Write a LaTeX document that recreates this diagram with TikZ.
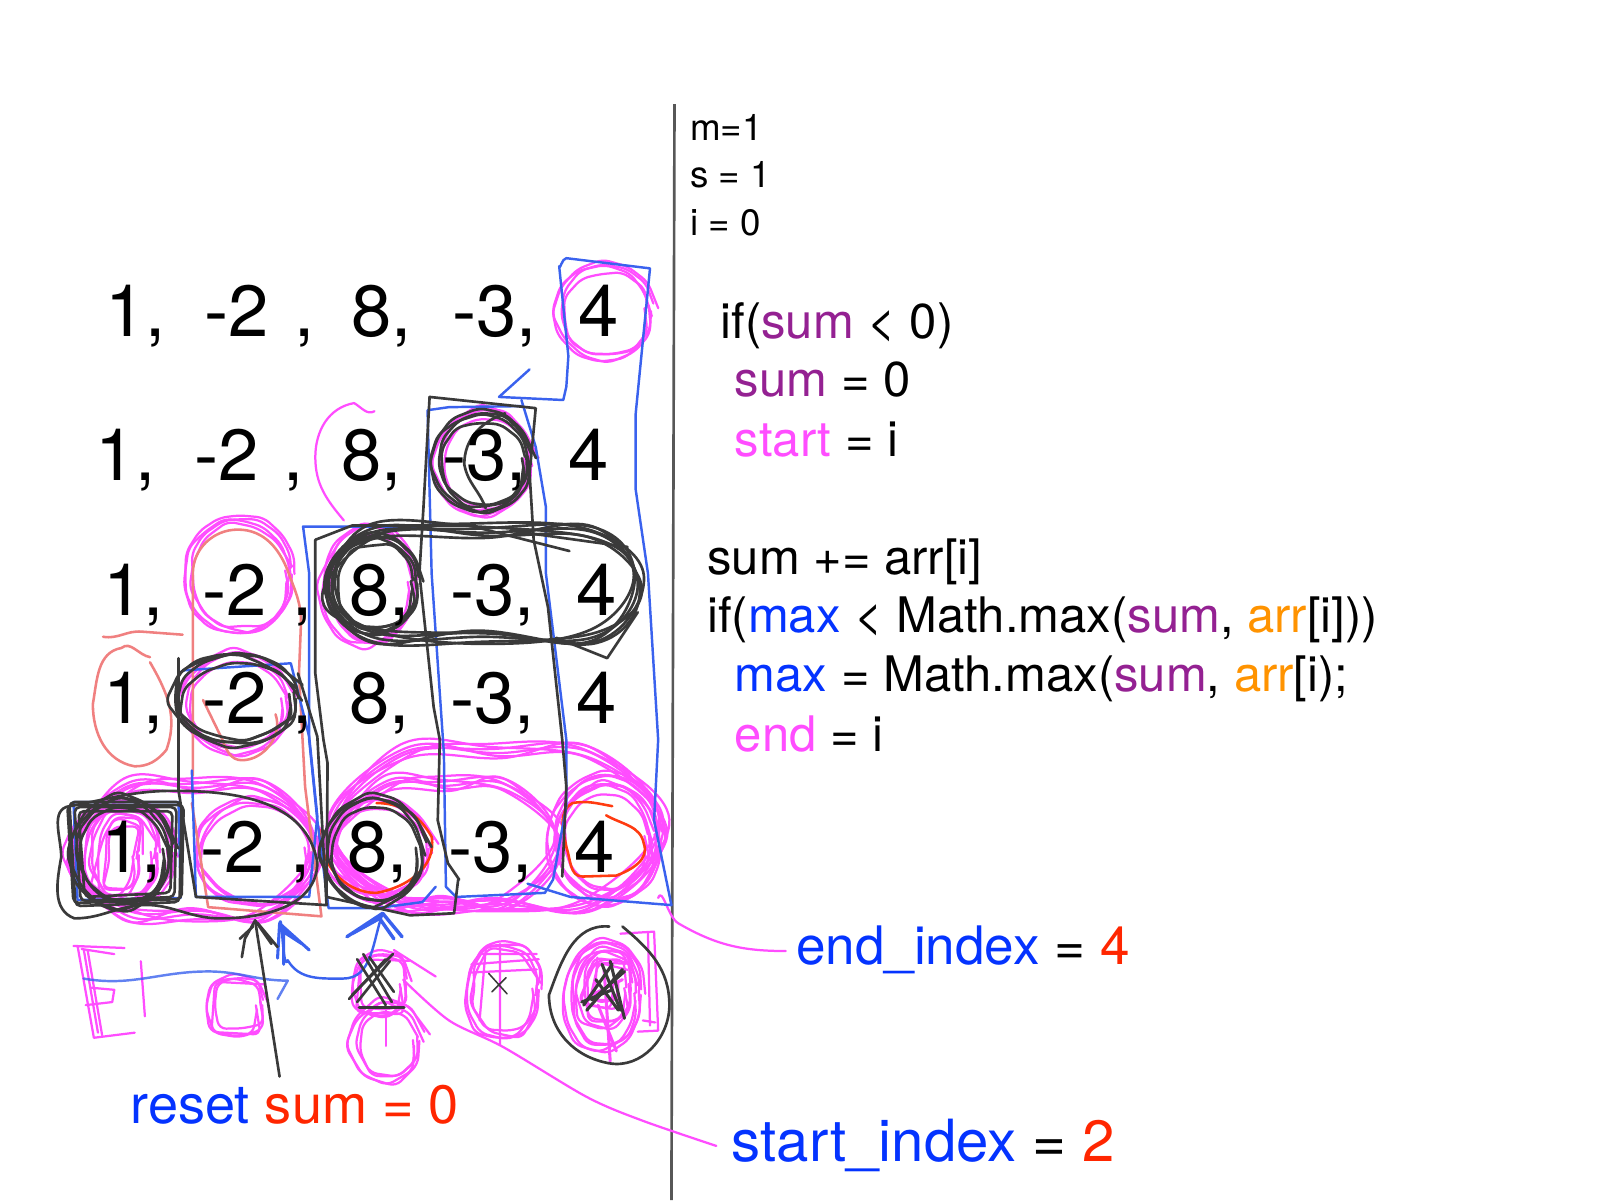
\documentclass[tikz,border=0pt]{standalone}
\usepackage{fontspec}
\setmainfont{TeX Gyre Heros}
\usetikzlibrary{decorations.pathmorphing}

\definecolor{penmagenta}{HTML}{FF4DFF}
\definecolor{penblue}{HTML}{3A62EE}
\definecolor{penblack}{HTML}{3A3A3A}
\definecolor{pensalmon}{HTML}{F08080}
\definecolor{penred}{HTML}{FF3B10}
\definecolor{inkblue}{HTML}{0433FF}
\definecolor{inkred}{HTML}{FF2600}
\definecolor{inkpurple}{HTML}{942192}
\definecolor{inkorange}{HTML}{FF9300}

\tikzset{
  magentapen/.style={penmagenta,line width=2.2pt,line cap=round,line join=round},
  bluepen/.style={penblue,line width=2.4pt,line cap=round,line join=round},
  blackpen/.style={penblack,line width=2.6pt,line cap=round,line join=round},
  salmonpen/.style={pensalmon,line width=2.5pt,line cap=round,line join=round},
  redpen/.style={penred,line width=2.5pt,line cap=round,line join=round},
  wobble/.style={decorate,decoration={random steps,segment length=22pt,amplitude=1.8pt},rounded corners=7pt},
  numtext/.style={anchor=base west,inner sep=0pt,font=\fontsize{71}{80}\selectfont},
  codetext/.style={anchor=base west,inner sep=0pt,font=\fontsize{48}{54}\selectfont},
  vartext/.style={anchor=base west,inner sep=0pt,font=\fontsize{36}{40}\selectfont},
  notetext/.style={anchor=base west,inner sep=0pt,font=\fontsize{53}{58}\selectfont}
}

% several rough loops round one spot
\newcommand{\scribble}[5]{
  \foreach \dx/\dy/\dr/\tilt in {0/0/0/0,2/-2/-4/5,-3/2/-2/-6,1/3/-7/9}{
    \draw[#1,wobble] (#2+\dx,#3+\dy) ellipse [x radius=#4+\dr,y radius=#5+\dr,rotate=\tilt];
  }
}
% several rough long loops
\newcommand{\pill}[6]{
  \foreach \da/\db/\dc in {0/0/0,4/-5/3,-3/4/-4,2/6/5,-4/-7/-6,6/3/-9}{
    \draw[#1] plot[smooth cycle,tension=0.65] coordinates {
      (#2+#6+\da,#3+\db) ({(#2+#4)/2+\dc},#3+\dc) (#4-#6-\da,#3-\db) (#4+\da,{(#3+#5)/2+\dc})
      (#4-#6+\da,#5+\db) ({(#2+#4)/2-\dc},#5-\db) (#2+#6-\da,#5+\dc) (#2-\da,{(#3+#5)/2-\dc})};
  }
}

\begin{document}
\begin{tikzpicture}[x=1pt,y=-1pt]
  \useasboundingbox (0,0) rectangle (1568,1176);

  % divider
  \draw[penblack!85,line width=2.6pt] (661,102)--(658,1176);

  % magenta work, top to bottom
  \scribble{magentapen}{593}{305}{45}{44}
  \draw[magentapen] (367,403) to[out=-150,in=-30] (347,395) to[out=190,in=90] (309,448) to[out=-90,in=130] (337,510);
  \scribble{magentapen}{475}{452}{45}{48}
  \scribble{magentapen}{235}{563}{51}{55}
  \scribble{magentapen}{362}{573}{44}{55}
  \scribble{magentapen}{232}{688}{50}{46}
  \pill{magentapen}{72}{772}{312}{896}{50}
  \scribble{magentapen}{120}{836}{50}{50}
  \scribble{magentapen}{120}{836}{34}{44}
  \scribble{magentapen}{118}{838}{18}{36}
  \scribble{magentapen}{250}{835}{55}{50}
  \pill{magentapen}{324}{738}{650}{886}{70}
  \pill{magentapen}{326}{770}{548}{884}{50}
  \scribble{magentapen}{594}{822}{44}{50}
  \scribble{magentapen}{594}{822}{54}{62}
  \scribble{magentapen}{370}{832}{50}{46}

  % magenta scribbles under the last row
  \draw[magentapen] (72,927)--(122,929) (76,927)--(92,1017)--(132,1012) (86,932)--(100,1014) (82,930)--(96,1012)
    (84,985)--(110,982)--(112,970)--(90,968) (138,942)--(142,996) (112,935)--(80,930);
  \scribble{magentapen}{232}{985}{25}{26}
  \scribble{magentapen}{374}{964}{24}{28}
  \scribble{magentapen}{380}{1020}{31}{34}
  \draw[magentapen] (378,990)--(378,1025);
  \scribble{magentapen}{494}{970}{34}{44}
  \draw[magentapen] (462,945)--(528,940) (462,953)--(526,950) (470,935)--(526,935) (490,925)--(490,1024) (476,930)--(470,1000);
  \scribble{magentapen}{592}{975}{36}{50}
  \scribble{magentapen}{594}{968}{24}{34}
  \scribble{magentapen}{594}{964}{12}{20}
  \draw[magentapen,line width=3pt] (592,950)--(598,1040) (580,975)--(610,960) (586,985)--(604,1030);
  \draw[magentapen] (608,915)--(641,913)--(645,1010)--(625,1011) (635,915)--(637,1005) (630,1000)--(642,1002);
  \draw[magentapen] (645,880) to[out=70,in=150] (665,905) to[out=-30,in=180] (770,932);
  \draw[magentapen] (386,931)--(427,957);
  \draw[magentapen] plot[smooth,tension=0.5] coordinates {(395,960) (440,1000) (493,1026) (575,1075) (629,1098) (702,1123)};

  % salmon and red
  \draw[salmonpen] (147,644) to[out=170,in=40] (119,635) to[out=190,in=80] (91,690) to[out=-90,in=170] (132,751) to[out=0,in=230] (163,735) to[out=70,in=-60] (147,649);
  \draw[salmonpen] (101,624) to[out=-10,in=175] (139,619)--(179,622);
  \draw[salmonpen] (189,760)--(189,562) to[out=90,in=180] (233,519) to[out=0,in=110] (283,562) to[out=-70,in=90] (295,610)--(293,660)--(299,771)--(315,898)--(204,889)--(188,787);
  \draw[salmonpen] (199,686)--(218,725) to[out=-70,in=180] (237,745) to[out=0,in=-70] (270,700);
  \draw[redpen] (369,787) to[out=0,in=120] (423,820) to[out=-80,in=10] (369,875) to[out=180,in=-90] (313,813);
  \draw[redpen] (600,790) to[out=170,in=10] (561,787) to[out=-150,in=100] (555,830) to[out=-70,in=180] (571,859)--(604,858) to[out=20,in=-70] (631,827) to[out=100,in=-30] (594,799);

  % blue boxes
  \draw[bluepen] (548,261) to[out=-80,in=180] (555,253)--(637,263)--(623,405)--(623,480)--(635,562)--(645,725)--(641,804)--(658,887)--(559,879)--(517,866);
  \draw[bluepen] (548,261)--(557,349)--(555,379)--(552,392)--(489,389)--(519,362);
  \draw[bluepen] (511,392)--(525,438)--(535,497)--(535,562)--(555,725)--(555,790)--(542,862)--(534,875)--(447,879)--(437,869)--(435,738)--(423,562)--(419,402)--(440,399)--(511,398);
  \draw[bluepen] (411,516)--(297,516)--(303,562)--(303,725)--(311,804)--(322,890)--(369,890)--(414,884)--(427,869);
  \draw[bluepen] (72,786)--(175,786)--(177,880)--(76,882)--cycle;
  \draw[bluepen] (188,755)--(192,879)--(303,879)--(311,800)--(303,722)--(285,650)--(179,657);
  \draw[bluepen,opacity=0.8] (82,959) to[out=-10,in=180] (204,952) to[out=0,in=180] (282,961)--(272,979);
  \draw[bluepen] (274,905) to[out=80,in=-110] (282,941) to[out=-60,in=180] (336,959) to[out=0,in=-110] (375,895);
  \draw[bluepen,line width=3pt] (272,939)--(274,905)--(303,931) (278,910)--(278,945) (276,912)--(296,925);
  \draw[bluepen,line width=3.4pt] (340,918)--(375,895)--(394,918) (345,915)--(372,900)--(386,920);

  % black work
  \foreach \dx/\dy in {0/0,5/5,9/9,-2/3}{
    \draw[blackpen,rounded corners=5pt] (68+\dx,786+\dy)--(178-\dx,786+\dy)--(176-\dx,884-\dy)--(74+\dx,888-\dy)--cycle;
  }
  \scribble{blackpen}{120}{835}{46}{50}
  \draw[blackpen] (73,900) to[out=160,in=-100] (60,840) to[out=90,in=-170] (68,790) to[out=10,in=180] (170,775) to[out=0,in=100] (311,845) to[out=-90,in=0] (216,900) to[out=180,in=10] (130,888) to[out=-170,in=0] (73,900);
  \draw[blackpen] (175,645)--(175,775)--(192,879)--(320,887)--(311,722)--(292,660);
  \scribble{blackpen}{232}{685}{58}{42}
  \draw[blackpen] (309,529)--(309,660)--(317,725)--(321,748)--(320,879)--(402,897)--(445,895)--(449,862);
  \pill{blackpen}{322}{522}{625}{624}{42}
  \draw[blackpen] (309,529)--(345,515)--(460,515)--(558,540) (500,520)--(615,536);
  \draw[blackpen] (545,625)--(595,645)--(625,600);
  \scribble{blackpen}{367}{572}{42}{45}
  \draw[blackpen] (421,389)--(525,400)--(519,464)--(523,529)--(537,595)--(551,725)--(555,771)--(551,859);
  \draw[blackpen] (421,389)--(415,497)--(411,562)--(425,693)--(431,725)--(429,804)--(439,846)--(450,862);
  \scribble{blackpen}{473}{452}{45}{45}
  \draw[blackpen] (495,405) to[out=200,in=90] (455,455) to[out=-80,in=110] (476,498);
  \scribble{blackpen}{367}{834}{47}{49}
  \draw[blackpen] (597,908) to[out=175,in=70] (538,975) to[out=-90,in=170] (597,1042) to[out=-10,in=-90] (656,985) to[out=90,in=-40] (610,908);

  % crossings out
  \foreach \xa/\ya/\xb/\yb in {345/975/385/935,342/979/378/940,350/982/382/942,350/940/378/985,356/935/384/982,362/938/386/972}{
    \draw[blackpen] (\xa,\ya)--(\xb,\yb);
  }
  \draw[blackpen,line width=3pt] (352,987)--(396,987);
  \draw[blackpen,line width=1.5pt] (479,954)--(497,974) (496,958)--(482,972);
  \foreach \xa/\ya/\xb/\yb in {572/985/600/945,575/990/610/950,580/980/612/952,590/945/608/990,598/942/612/998,584/960/606/990,570/982/600/970}{
    \draw[blackpen,line width=3pt] (\xa,\ya)--(\xb,\yb);
  }
  \coordinate (resettail) at (274,1055);
  \coordinate (resethead) at (250,902);
  \draw[blackpen] (resettail)--(resethead);
  \draw[blackpen] (237,938)--(240,920)--(250,902)--(266,925) (235,920)--(248,908) (252,904)--(272,928);

  % the five rows
  \foreach \row/\xo/\yo in {a/103/330,b/93/471,c/101/603,d/101/709,e/99/855}{
    \node[numtext] (one\row) at (\xo,\yo) {1,};
    \node[numtext] (two\row) at (\xo+97,\yo) {-2};
    \node[numtext] (comma\row) at (\xo+185,\yo) {,};
    \node[numtext] (eight\row) at (\xo+241,\yo) {8,};
    \node[numtext] (three\row) at (\xo+340,\yo) {-3,};
    \node[numtext] (four\row) at (\xo+464,\yo) {4};
  }

  % state
  \node[vartext] (varm) at (676,138) {m=1};
  \node[vartext] (vars) at (676,184) {s = 1};
  \node[vartext] (vari) at (676,231) {i = 0};

  % code
  \node[codetext] (lineone) at (706,332) {if(\textcolor{inkpurple}{sum} < 0)};
  \node[codetext] (linetwo) at (720,389) {\textcolor{inkpurple}{sum} = 0};
  \node[codetext] (linethree) at (720,447) {\textcolor{penmagenta}{start} = i};
  \node[codetext] (linefour) at (693,563) {sum += arr[i]};
  \node[codetext] (linefive) at (693,620) {if(\textcolor{inkblue}{max} < Math.max(\textcolor{inkpurple}{sum}, \textcolor{inkorange}{arr}[i]))};
  \node[codetext] (linesix) at (720,678) {\textcolor{inkblue}{max} = Math.max(\textcolor{inkpurple}{sum}, \textcolor{inkorange}{arr}[i);};
  \node[codetext] (lineseven) at (720,736) {\textcolor{penmagenta}{end} = i};

  % labels
  \node[notetext,font=\fontsize{52}{58}\selectfont] (endlabel) at (780,945) {\textcolor{inkblue}{end\_index} = \textcolor{inkred}{4}};
  \node[notetext,font=\fontsize{57}{62}\selectfont] (startlabel) at (717,1138) {\textcolor{inkblue}{start\_index} = \textcolor{inkred}{2}};
  \node[notetext] (resetlabel) at (128,1101) {\textcolor{inkblue}{reset} \textcolor{inkred}{sum = 0}};
\end{tikzpicture}
\end{document}
